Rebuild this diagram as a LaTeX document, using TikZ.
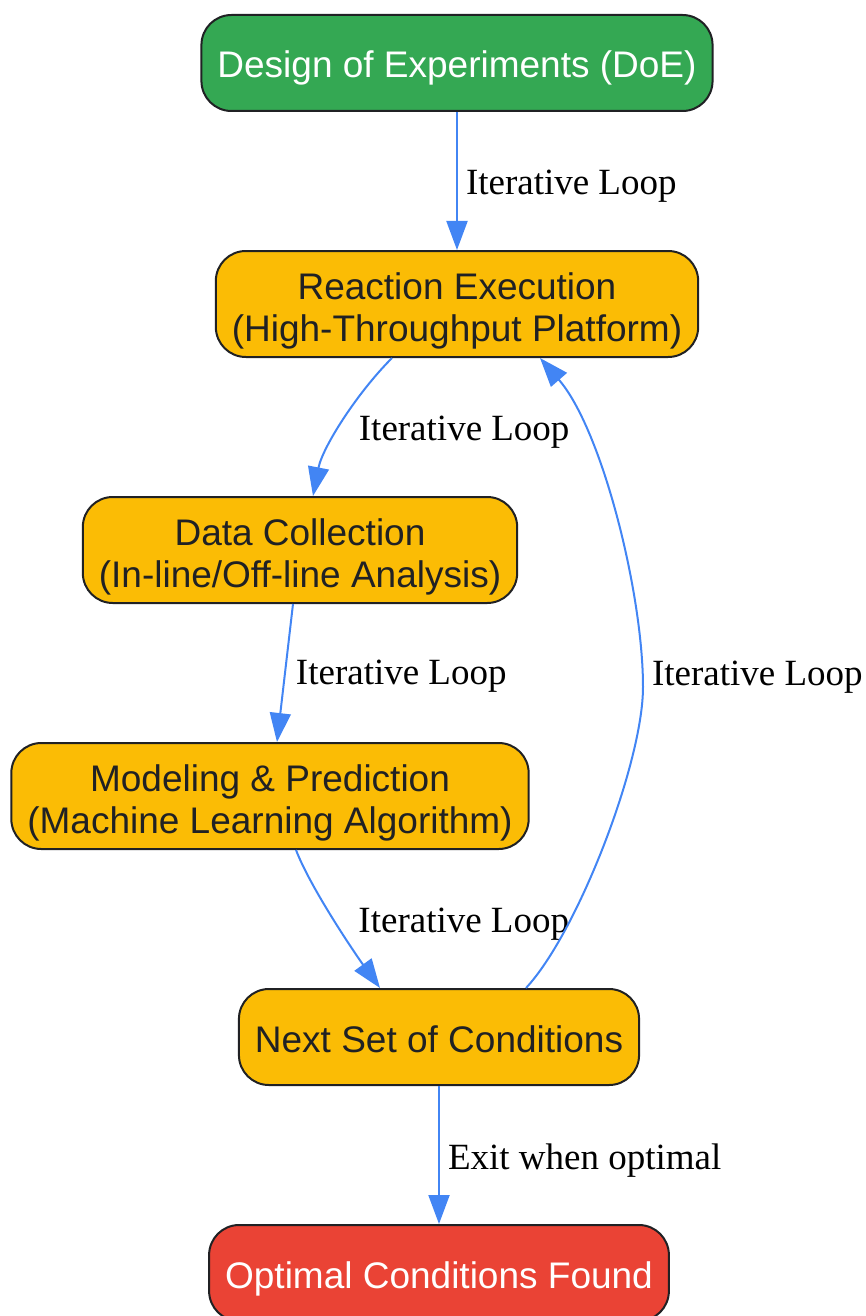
\documentclass[tikz,border=0pt]{standalone}
\usepackage{fontspec}
\setmainfont{Liberation Serif}
\setsansfont{Liberation Sans}
\usepackage{tikz}
\usetikzlibrary{positioning, arrows.meta}
\definecolor{doegreen}{HTML}{34A853}
\definecolor{stepyellow}{HTML}{FBBC05}
\definecolor{stopred}{HTML}{EA4335}
\definecolor{loopblue}{HTML}{4285F4}
\definecolor{inkdark}{HTML}{202124}
\tikzset{
    node distance=138pt, % Gap between two stages
    stage/.style={ % Sets the properties for each stage box
        draw=inkdark, line width=2pt,
        rounded corners=30pt,
        fill=stepyellow, text=inkdark,
        font=\sffamily\fontsize{37}{42}\selectfont,
        align=center,
        inner xsep=16pt, inner ysep=8pt,
        text height=38pt, text depth=8pt,
        minimum height=96pt
    },
    twoline/.style={text height=82pt}, % Box with two lines of text
    startstage/.style={stage, fill=doegreen, text=white}, % First stage
    stopstage/.style={stage, fill=stopred, text=white}, % Last stage
    flow/.style={ % Blue arrows between the stages
        draw=loopblue, line width=2pt,
        -{Triangle[length=29pt,width=21pt]}
    },
    every edge/.style={flow}, % Every transition is a flow arrow
    lbl/.style={ % Labels on the arrows
        font=\fontsize{37}{44}\selectfont,
        inner sep=2pt, anchor=west
    }
}
\begin{document}
\begin{tikzpicture}
    \useasboundingbox (-457pt,63pt) rectangle (408pt,-1253pt);
    \node[startstage] (doe) {Design of Experiments (DoE)};
    \node[stage, twoline, below=of doe] (rxn) {Reaction Execution\\(High-Throughput Platform)};
    \node[stage, twoline, below=of rxn, xshift=-157pt] (data) {Data Collection\\(In-line/Off-line Analysis)};
    \node[stage, twoline, below=of data, xshift=-30pt] (model) {Modeling \& Prediction\\(Machine Learning Algorithm)};
    \node[stage, below=of model, xshift=169pt] (next) {Next Set of Conditions};
    \node[stopstage, below=of next] (opt) {Optimal Conditions Found};
    \coordinate (turn) at ([xshift=343pt, yshift=-83pt]data.south);
    \path (doe) edge node[lbl, xshift=6pt, yshift=-5pt] (l1) {Iterative Loop} (rxn)
    ([xshift=-65pt]rxn.south) edge[out=225, in=79, looseness=.8] node[lbl, xshift=13pt, yshift=-10pt] (l2) {Iterative Loop} ([xshift=13pt]data.north)
    ([xshift=-7pt]data.south) edge node[lbl, xshift=8pt, yshift=-3pt] (l3) {Iterative Loop} ([xshift=7pt]model.north)
    ([xshift=26pt]model.south) edge[out=291, in=126, looseness=.65] node[lbl, xshift=21pt, yshift=-3pt] (l4) {Iterative Loop} ([xshift=-59pt]next.north)
    (next) edge node[lbl, xshift=6pt, yshift=-6pt] (l6) {Exit when optimal} (opt);
    \draw[flow] ([xshift=87pt]next.north) to[out=47, in=270, looseness=.6] (turn)
        node[lbl, xshift=6pt, yshift=10pt] (l5) {Iterative Loop}
        to[out=90, in=311, looseness=.7] ([xshift=83pt]rxn.south);
\end{tikzpicture}
\end{document}
